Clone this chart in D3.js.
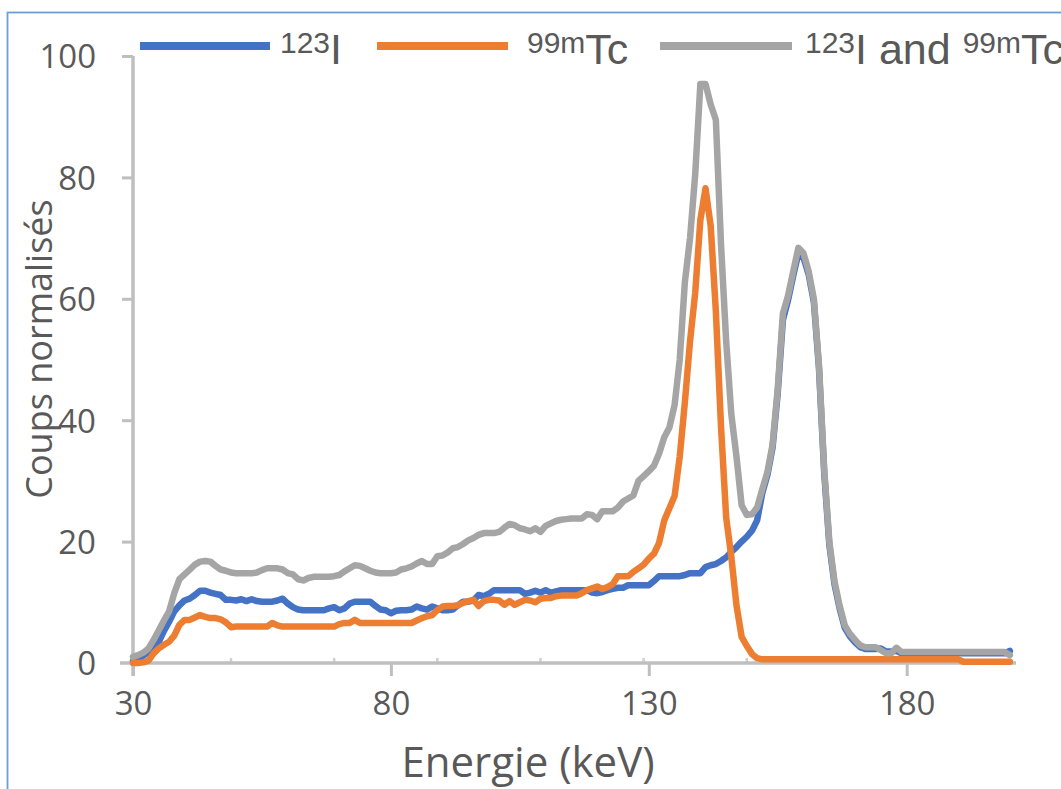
<!DOCTYPE html>
<html>
<head>
<meta charset="utf-8">
<script src="https://cdn.jsdelivr.net/npm/d3@7"></script>
<style>
  html, body { margin: 0; padding: 0; background: #ffffff; }
  svg { display: block; }
</style>
</head>
<body>
<svg id="chart" width="1061" height="789"></svg>
<script>
// ---------------- DATA ----------------
// Energy channels (keV), 30..200 step 1
const energies = d3.range(30, 201, 1);

// 123I spectrum (normalised counts)
const seriesI123 = [
  0.3, 0.6, 1.2, 1.8, 2.5, 3.5, 5.3, 6.8, 8.5, 9.5,          // 30-39
  10.3, 10.6, 11.2, 11.9, 11.9, 11.6, 11.4, 11.2, 10.4, 10.4, // 40-49
  10.3, 10.5, 10.2, 10.5, 10.2, 10.1, 10.1, 10.1, 10.3, 10.6, // 50-59
  9.8, 9.2, 8.8, 8.7, 8.7, 8.7, 8.7, 8.7, 9.0, 9.2,           // 60-69
  8.7, 9.0, 9.8, 10.1, 10.1, 10.1, 10.1, 9.4, 8.8, 8.7,       // 70-79
  8.2, 8.6, 8.7, 8.7, 8.8, 9.3, 9.0, 8.8, 9.3, 9.0,           // 80-89
  8.7, 8.7, 8.8, 9.5, 10.1, 10.1, 10.3, 11.2, 11.0, 11.4,     // 90-99
  12.0, 12.0, 12.0, 12.0, 12.0, 12.0, 11.4, 11.6, 11.9, 11.6, // 100-109
  12.0, 11.6, 11.8, 12.0, 12.0, 12.0, 12.0, 12.0, 12.0, 11.6, // 110-119
  11.5, 11.7, 12.0, 12.2, 12.4, 12.4, 12.8, 12.8, 12.8, 12.8, // 120-129
  12.8, 13.5, 14.3, 14.3, 14.3, 14.3, 14.3, 14.5, 14.8, 14.8, // 130-139
  14.8, 15.8, 16.1, 16.3, 16.8, 17.4, 18.3, 19.1, 20.0, 20.8, // 140-149
  21.8, 23.5, 28.0, 31.0, 35.5, 44.5, 56.5, 59.8, 63.8, 67.5, // 150-159
  66.8, 64.0, 59.5, 48.5, 31.5, 19.5, 13.0, 9.0, 5.8, 4.4,    // 160-169
  3.4, 2.6, 2.3, 2.3, 2.3, 2.4, 1.9, 1.9, 2.0, 1.6,           // 170-179
  1.6, 1.6, 1.6, 1.6, 1.6, 1.6, 1.6, 1.6, 1.6, 1.6,           // 180-189
  1.6, 1.6, 1.6, 1.6, 1.6, 1.6, 1.6, 1.6, 1.6, 1.6,           // 190-199
  2.0                                                         // 200
];

// 99mTc spectrum
const seriesTc99m = [
  0.0, 0.0, 0.1, 0.4, 1.6, 2.4, 3.0, 3.5, 4.5, 6.3,           // 30-39
  7.1, 7.1, 7.5, 7.9, 7.6, 7.4, 7.4, 7.2, 6.7, 5.9,           // 40-49
  6.0, 6.0, 6.0, 6.0, 6.0, 6.0, 6.0, 6.6, 6.2, 6.0,           // 50-59
  6.0, 6.0, 6.0, 6.0, 6.0, 6.0, 6.0, 6.0, 6.0, 6.0,           // 60-69
  6.4, 6.6, 6.6, 7.1, 6.6, 6.6, 6.6, 6.6, 6.6, 6.6,           // 70-79
  6.6, 6.6, 6.6, 6.6, 6.6, 7.0, 7.4, 7.7, 7.9, 8.7,           // 80-89
  9.3, 9.4, 9.4, 9.5, 9.9, 10.2, 10.4, 9.4, 10.2, 10.4,       // 90-99
  10.4, 10.3, 9.6, 10.2, 9.6, 10.0, 10.4, 10.3, 10.0, 10.6,   // 100-109
  10.7, 10.7, 11.0, 11.1, 11.1, 11.1, 11.1, 11.5, 12.0, 12.3, // 110-119
  12.6, 12.2, 12.5, 13.0, 14.3, 14.3, 14.3, 15.0, 15.6, 16.2, // 120-129
  17.2, 18.0, 19.8, 23.5, 25.5, 27.5, 34.0, 43.0, 53.0, 61.0, // 130-139
  73.0, 78.2, 72.0, 58.0, 39.0, 24.0, 17.5, 9.5, 4.3, 2.8,    // 140-149
  1.5, 0.8, 0.6, 0.6, 0.6, 0.6, 0.6, 0.6, 0.6, 0.6,           // 150-159
  0.6, 0.6, 0.6, 0.6, 0.6, 0.6, 0.6, 0.6, 0.6, 0.6,           // 160-169
  0.6, 0.6, 0.6, 0.6, 0.6, 0.6, 0.6, 0.6, 0.6, 0.6,           // 170-179
  0.6, 0.6, 0.6, 0.6, 0.6, 0.6, 0.6, 0.6, 0.6, 0.6,           // 180-189
  0.6, 0.2, 0.2, 0.2, 0.2, 0.2, 0.2, 0.2, 0.2, 0.2,           // 190-199
  0.2                                                         // 200
];

// 123I and 99mTc spectrum
const seriesBoth = [
  1.0, 1.3, 1.7, 2.4, 3.8, 5.4, 7.0, 8.5, 11.5, 13.8,         // 30-39
  14.6, 15.4, 16.2, 16.7, 16.8, 16.7, 16.0, 15.4, 15.2, 14.9, // 40-49
  14.8, 14.8, 14.8, 14.8, 14.9, 15.3, 15.6, 15.6, 15.6, 15.4, // 50-59
  14.8, 14.6, 13.8, 13.6, 14.0, 14.2, 14.2, 14.2, 14.2, 14.3, // 60-69
  14.5, 15.1, 15.6, 16.1, 16.0, 15.6, 15.2, 14.9, 14.8, 14.8, // 70-79
  14.8, 14.9, 15.4, 15.6, 15.9, 16.4, 16.8, 16.3, 16.3, 17.6, // 80-89
  17.7, 18.2, 18.9, 19.1, 19.6, 20.2, 20.6, 21.1, 21.4, 21.4, // 90-99
  21.4, 21.6, 22.3, 22.9, 22.7, 22.2, 22.0, 21.7, 22.2, 21.6, // 100-109
  22.6, 23.0, 23.4, 23.6, 23.7, 23.8, 23.8, 23.8, 24.5, 24.4, // 110-119
  23.7, 25.0, 25.0, 25.0, 25.6, 26.6, 27.1, 27.6, 30.0, 30.8, // 120-129
  31.6, 32.5, 34.5, 37.2, 38.8, 42.5, 50.0, 62.8, 70.0, 80.5, // 130-139
  95.4, 95.4, 92.0, 89.5, 69.0, 53.0, 41.0, 34.0, 26.0, 24.4, // 140-149
  24.5, 25.6, 28.6, 31.5, 36.0, 45.2, 57.6, 60.5, 64.5, 68.4, // 150-159
  67.5, 64.5, 60.0, 49.0, 32.0, 20.0, 13.5, 9.4, 6.2, 4.8,    // 160-169
  3.8, 2.9, 2.6, 2.6, 2.6, 2.1, 1.6, 1.6, 2.5, 1.8,           // 170-179
  1.8, 1.8, 1.8, 1.8, 1.8, 1.8, 1.8, 1.8, 1.8, 1.8,           // 180-189
  1.8, 1.8, 1.8, 1.8, 1.8, 1.8, 1.8, 1.8, 1.8, 1.8,           // 190-199
  1.3                                                         // 200
];

const xTickValues = [30, 80, 130, 180];
const xMinorTickValues = [49, 69, 89, 109, 129, 149, 169, 189];
const yTickValues = [0, 20, 40, 60, 80, 100];

const seriesNames = ["123I", "99mTc", "123I and 99mTc"];
const seriesColors = ["#4472C4", "#ED7D31", "#A5A5A5"];

// ---------------- CHART ----------------
const svg = d3.select("#chart");
const W = 1061, H = 789;
const TEXT = "#595959", AXIS = "#BFBFBF";
const tickFont = "'Open Sans', 'DejaVu Sans', sans-serif";
const legendFont = "'Liberation Sans', Arial, sans-serif";

svg.append("rect").attr("width", W).attr("height", H).attr("fill", "#fff");
// Outer frame (chart area border, cut by the page edges)
svg.append("rect")
  .attr("x", 7.5).attr("y", 12.5)
  .attr("width", W + 20).attr("height", H + 20)
  .attr("fill", "none").attr("stroke", "#6A9FD8").attr("stroke-width", 1.8);

const x = d3.scaleLinear().domain([30, 201]).range([133, 1015]);
const y = d3.scaleLinear().domain([0, 100]).range([663, 56]);

// Minor marks on the x axis (inside)
svg.append("g").selectAll("line").data(xMinorTickValues).join("line")
  .attr("x1", d => x(d)).attr("x2", d => x(d))
  .attr("y1", y(0) - 5).attr("y2", y(0))
  .attr("stroke", "#D0D0D0").attr("stroke-width", 2.5);

// X axis
const xAxis = d3.axisBottom(x).tickValues(xTickValues).tickSize(13).tickPadding(16)
  .tickSizeOuter(0).tickFormat(d3.format("d"));
const gx = svg.append("g").attr("transform", `translate(0,${y(0)})`).call(xAxis);
gx.select(".domain").remove();
gx.append("line").attr("x1", 120).attr("x2", 1016).attr("y1", 0).attr("y2", 0)
  .attr("stroke", AXIS).attr("stroke-width", 3.5);
gx.selectAll(".tick line").attr("stroke", AXIS).attr("stroke-width", 3);
gx.selectAll(".tick text").attr("fill", TEXT).attr("font-family", tickFont)
  .attr("font-size", 33).attr("dy", "0.71em");

// Y axis
const yAxis = d3.axisLeft(y).tickValues(yTickValues.filter(d => d > 0)).tickSize(11)
  .tickPadding(26).tickSizeOuter(0);
const gy = svg.append("g").attr("transform", `translate(${x(30)},0)`).call(yAxis);
gy.select(".domain").remove();
gy.append("line").attr("x1", 0).attr("x2", 0).attr("y1", y(100)).attr("y2", y(0) + 13)
  .attr("stroke", AXIS).attr("stroke-width", 3.5);
gy.selectAll(".tick line").attr("stroke", AXIS).attr("stroke-width", 3);
gy.selectAll(".tick text").attr("fill", TEXT).attr("font-family", tickFont)
  .attr("font-size", 33).attr("dy", "0.36em");
// "0" label (tick mark is the axis overhang)
svg.append("text").attr("x", x(30) - 37).attr("y", y(0)).attr("dy", "0.36em")
  .attr("text-anchor", "end").attr("fill", TEXT).attr("font-family", tickFont)
  .attr("font-size", 33).text(yTickValues[0]);

// Axis titles
svg.append("text").attr("x", 528).attr("y", 777).attr("text-anchor", "middle")
  .attr("fill", TEXT).attr("font-family", tickFont).attr("font-size", 42)
  .text("Energie (keV)");
svg.append("text").attr("transform", "translate(52,349) rotate(-90)")
  .attr("text-anchor", "middle").attr("fill", TEXT).attr("font-family", tickFont)
  .attr("font-size", 36).text("Coups normalisés");

// Series lines
const seriesList = [seriesI123, seriesTc99m, seriesBoth];
const line = d3.line().x((d, i) => x(energies[i])).y(d => y(d));
svg.append("g").selectAll("path").data(seriesList).join("path")
  .attr("d", d => line(d))
  .attr("fill", "none")
  .attr("stroke", (d, i) => seriesColors[i])
  .attr("stroke-width", 6.5)
  .attr("stroke-linejoin", "round")
  .attr("stroke-linecap", "round");

// Legend
const legendItems = [
  { x1: 140, x2: 270, tx: 280, parts: [["123", true], ["I", false]] },
  { x1: 377, x2: 508, tx: 527, parts: [["99m", true], ["Tc", false]] },
  { x1: 660, x2: 792, tx: 805, parts: [["123", true], ["I and ", false], ["99m", true], ["Tc", false]] }
];
const lg = svg.append("g");
legendItems.forEach((it, i) => {
  lg.append("line").attr("x1", it.x1).attr("x2", it.x2).attr("y1", 46).attr("y2", 46)
    .attr("stroke", seriesColors[i]).attr("stroke-width", 8);
  const t = lg.append("text").attr("x", it.tx).attr("y", 64)
    .attr("fill", TEXT).attr("font-family", legendFont).attr("font-size", 43);
  let sup = false;
  it.parts.forEach(([s, isSup]) => {
    const ts = t.append("tspan").text(s);
    if (isSup && !sup) { ts.attr("font-size", 30).attr("dy", -11); sup = true; }
    else if (!isSup && sup) { ts.attr("dy", 11); sup = false; }
    else if (isSup) ts.attr("font-size", 30);
  });
});
</script>
</body>
</html>
